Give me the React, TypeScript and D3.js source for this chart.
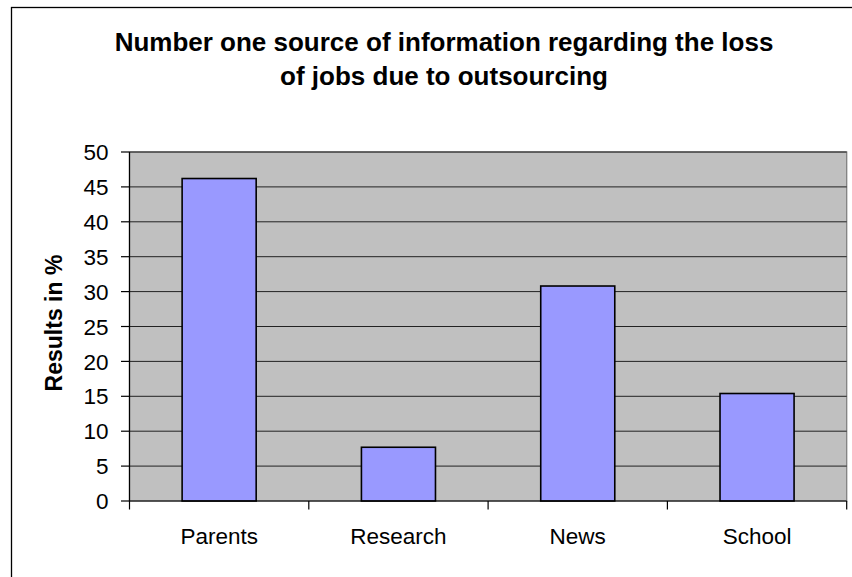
import React from 'react';
import * as d3 from 'd3';

const categories = ['Parents', 'Research', 'News', 'School'];
const values = [46.2, 7.7, 30.8, 15.4];
const yTicks = [0, 5, 10, 15, 20, 25, 30, 35, 40, 45, 50];
const titleLines = [
  'Number one source of information regarding the loss',
  'of jobs due to outsourcing',
];
const yTitle = 'Results in %';

const App: React.FC = () => {
  const width = 852;
  const height = 577;
  const plot = { left: 129.5, right: 846.7, top: 152, bottom: 501 };
  const font = 'Arial, "Liberation Sans", sans-serif';

  const xScale = d3
    .scaleBand<string>()
    .domain(categories)
    .range([plot.left, plot.right])
    .paddingInner(0.587)
    .paddingOuter(0.2935);
  const band = d3.scaleBand<string>().domain(categories).range([plot.left, plot.right]);
  const yScale = d3.scaleLinear().domain([0, 50]).range([plot.bottom, plot.top]);

  const boundaries = d3.range(categories.length + 1).map((i) => plot.left + i * band.step());

  return (
    <svg
      width={width}
      height={height}
      style={{ position: 'absolute', left: 0, top: 0, background: '#fff' }}
      fontFamily={font}
    >
      {/* outer chart border */}
      <rect x={11.5} y={7.5} width={900} height={700} fill="#fff" stroke="#000" strokeWidth={1.3} />

      {/* title */}
      {titleLines.map((t, i) => (
        <text key={i} x={444} y={50.5 + i * 34.5} textAnchor="middle" fontSize={26} fontWeight="bold" fill="#000">
          {t}
        </text>
      ))}

      {/* plot area */}
      <rect
        x={plot.left}
        y={plot.top}
        width={plot.right - plot.left}
        height={plot.bottom - plot.top}
        fill="#c0c0c0"
        stroke="#808080"
        strokeWidth={1.3}
      />

      {/* gridlines */}
      {yTicks.slice(1).map((t) => (
        <line key={t} x1={plot.left} x2={plot.right} y1={yScale(t)} y2={yScale(t)} stroke="#222" strokeWidth={1} />
      ))}

      {/* bars */}
      {categories.map((c, i) => (
        <rect
          key={c}
          x={xScale(c)}
          y={yScale(values[i])}
          width={xScale.bandwidth()}
          height={plot.bottom - yScale(values[i])}
          fill="#9999ff"
          stroke="#000"
          strokeWidth={1.6}
        />
      ))}

      {/* y axis */}
      <line x1={plot.left} x2={plot.left} y1={plot.top} y2={plot.bottom} stroke="#000" strokeWidth={1.2} />
      {yTicks.map((t) => (
        <g key={t}>
          <line x1={plot.left - 8.5} x2={plot.left} y1={yScale(t)} y2={yScale(t)} stroke="#000" strokeWidth={1.2} />
          <text x={108.5} y={yScale(t)} dy="0.36em" textAnchor="end" fontSize={22.5} fill="#000">
            {t}
          </text>
        </g>
      ))}

      {/* x axis */}
      <line x1={plot.left} x2={plot.right} y1={plot.bottom} y2={plot.bottom} stroke="#000" strokeWidth={1.2} />
      {boundaries.map((x, i) => (
        <line key={i} x1={x} x2={x} y1={plot.bottom} y2={plot.bottom + 8.5} stroke="#000" strokeWidth={1.2} />
      ))}
      {categories.map((c) => (
        <text
          key={c}
          x={(band(c) as number) + band.bandwidth() / 2}
          y={544}
          textAnchor="middle"
          fontSize={22.5}
          fill="#000"
        >
          {c}
        </text>
      ))}

      {/* y axis title */}
      <text
        transform={`translate(62, 323) rotate(-90)`}
        textAnchor="middle"
        fontSize={23}
        fontWeight="bold"
        fill="#000"
      >
        {yTitle}
      </text>
    </svg>
  );
};

export default App;
